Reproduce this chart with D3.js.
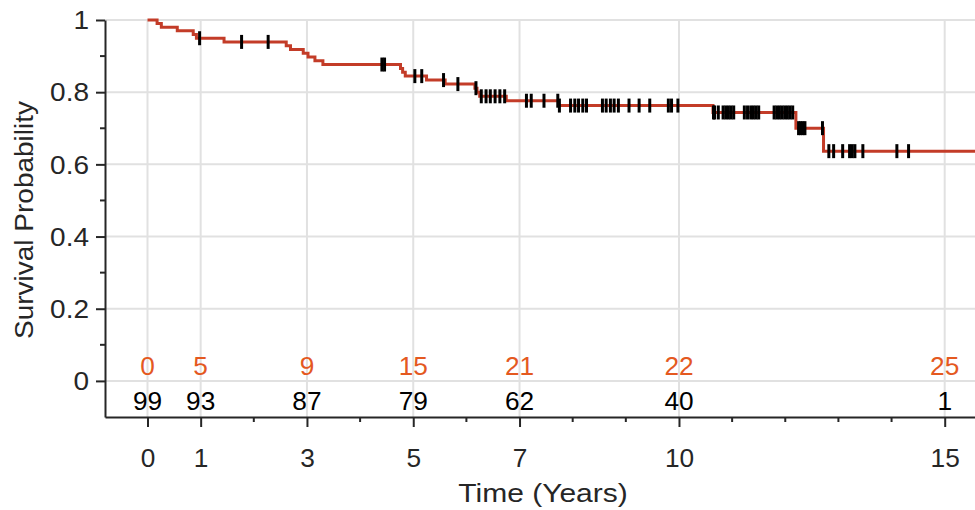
<html>
<head>
<meta charset='utf-8' />
<title>Survival</title>
<script src="https://cdn.jsdelivr.net/npm/d3@7"></script>
<style>
body { margin: 0; background: #fff; }
text { font-family: "Liberation Sans", Arial, sans-serif; }
</style>
</head>
<body>
<script>

// step points of the curve (time in years, survival)
var stepTimes = [0, 0.18, 0.26, 0.56, 0.86, 0.92, 1.44, 2.61, 2.69, 2.93, 3.02, 3.15, 3.30,
	4.76, 4.80, 4.85, 5.25, 5.60, 6.16, 6.20, 6.25, 6.75, 7.73, 10.64, 12.20, 12.72];
var stepSurv = [1, 0.990, 0.980, 0.970, 0.960, 0.9495, 0.9393, 0.9289, 0.9184, 0.9080, 0.8975, 0.8871, 0.8766,
	0.8659, 0.8552, 0.8445, 0.8335, 0.8224, 0.8111, 0.7998, 0.7886, 0.7763, 0.7629, 0.7438, 0.7003, 0.6366];
var lastTime = 15.6;

// censored times
var censorTimes = [0.98, 1.77, 2.27, 4.41, 4.46, 5.03, 5.16, 5.57, 5.84, 6.18, 6.28, 6.37, 6.45, 6.54, 6.63, 6.72,
	7.13, 7.22, 7.46, 7.72, 7.75, 7.96, 8.04, 8.11, 8.19, 8.26, 8.56, 8.63, 8.71, 8.78, 8.86, 9.06, 9.25, 9.45,
	9.80, 9.86, 9.98, 10.65, 10.67, 10.74, 10.83, 10.88, 10.93, 10.98, 11.03, 11.23, 11.29, 11.35, 11.40, 11.45,
	11.50, 11.79, 11.84, 11.89, 11.94, 11.99, 12.04, 12.09, 12.14, 12.25, 12.29, 12.33, 12.37, 12.70, 12.82,
	12.91, 13.08, 13.21, 13.26, 13.31, 13.46, 14.10, 14.32];

var riskTimes = [0, 1, 3, 5, 7, 10, 15];
var atRisk = [99, 93, 87, 79, 62, 40, 1];
var events = [0, 5, 9, 15, 21, 22, 25];

var xMajor = [0, 1, 3, 5, 7, 10, 15];
var xMinor = [2, 4, 6, 8, 9, 11, 12, 13, 14];
var yMajor = [0, 0.2, 0.4, 0.6, 0.8, 1];
var yMinor = [0.1, 0.3, 0.5, 0.7, 0.9];

var width = 975, height = 510;
var svg = d3.select("body").append("svg").attr("width", width).attr("height", height);

var xScale = d3.scaleLinear().domain([-0.8, 15.57]).range([105, 975]);
var yScale = d3.scaleLinear().domain([-0.1, 1]).range([417, 20]);

var ink = "#262626";

// grid
svg.append("g").selectAll("line").data(xMajor).join("line")
	.attr("x1", d => xScale(d)).attr("x2", d => xScale(d))
	.attr("y1", yScale(1)).attr("y2", yScale(-0.1))
	.attr("stroke", "#e1e1e1").attr("stroke-width", 2);
svg.append("g").selectAll("line").data(yMajor).join("line")
	.attr("x1", xScale(-0.8)).attr("x2", xScale(15.57))
	.attr("y1", d => yScale(d)).attr("y2", d => yScale(d))
	.attr("stroke", "#e1e1e1").attr("stroke-width", 2);

// survival curve
var pts = stepTimes.map((t, i) => [t, stepSurv[i]]);
pts.push([lastTime, stepSurv[stepSurv.length - 1]]);
var line = d3.line().x(d => xScale(d[0])).y(d => yScale(d[1])).curve(d3.curveStepAfter);
svg.append("path").datum(pts)
	.attr("fill", "none").attr("stroke", "#c33c28").attr("stroke-width", 3)
	.attr("d", line);

function survAt(t) {
	var i = d3.bisectRight(stepTimes, t) - 1;
	return stepSurv[Math.max(i, 0)];
}

svg.append("g").selectAll("line").data(censorTimes).join("line")
	.attr("x1", d => xScale(d)).attr("x2", d => xScale(d))
	.attr("y1", d => yScale(survAt(d)) - 7).attr("y2", d => yScale(survAt(d)) + 7)
	.attr("stroke", "#000").attr("stroke-width", 3);

// number at risk rows
svg.append("g").selectAll("text").data(riskTimes).join("text")
	.attr("transform", d => `translate(${xScale(d)},375) scale(1.05,1)`)
	.attr("text-anchor", "middle").attr("font-size", 25).attr("fill", "#e4591f")
	.text((d, i) => events[i]);
svg.append("g").selectAll("text").data(riskTimes).join("text")
	.attr("transform", d => `translate(${xScale(d)},410) scale(1.05,1)`)
	.attr("text-anchor", "middle").attr("font-size", 25).attr("fill", "#000")
	.text((d, i) => atRisk[i]);

// axes
var xAxis = svg.append("g").attr("transform", "translate(0,417)");
xAxis.call(d3.axisBottom(xScale).tickValues(xMajor).tickSize(10).tickSizeOuter(0).tickFormat(d3.format("d")));
xAxis.append("g").selectAll("line").data(xMinor).join("line")
	.attr("x1", d => xScale(d)).attr("x2", d => xScale(d)).attr("y1", 0).attr("y2", 5)
	.attr("stroke", ink).attr("stroke-width", 2);

var yAxis = svg.append("g").attr("transform", "translate(105,0)");
yAxis.call(d3.axisLeft(yScale).tickValues(yMajor).tickSize(9).tickSizeOuter(0).tickFormat(d => d === 0 || d === 1 ? d : d3.format(".1f")(d)));
yAxis.append("g").selectAll("line").data(yMinor).join("line")
	.attr("x1", -5).attr("x2", 0).attr("y1", d => yScale(d)).attr("y2", d => yScale(d))
	.attr("stroke", ink).attr("stroke-width", 2);

[xAxis, yAxis].forEach(function(a) {
	a.select(".domain").attr("stroke", ink).attr("stroke-width", 2);
	a.selectAll(".tick line").attr("stroke", ink).attr("stroke-width", 2);
	a.selectAll(".tick text").attr("fill", ink).attr("font-size", 25)
		.attr("font-family", "Liberation Sans, Arial, sans-serif");
});
xAxis.selectAll(".tick text").attr("dy", null).attr("y", 50)
	.attr("transform", "scale(1.05,1)");
yAxis.selectAll(".tick text").attr("dy", "0.35em").attr("x", -16 / 1.12)
	.attr("transform", "scale(1.12,1)");

// labels
svg.append("text").attr("transform", "translate(543,502) scale(1.2,1)").attr("text-anchor", "middle")
	.attr("font-size", 25).attr("fill", ink).text("Time (Years)");
svg.append("text").attr("transform", "translate(33,220) rotate(-90) scale(1.12,1)").attr("text-anchor", "middle")
	.attr("font-size", 25).attr("fill", ink).text("Survival Probability");

</script>
</body>
</html>
